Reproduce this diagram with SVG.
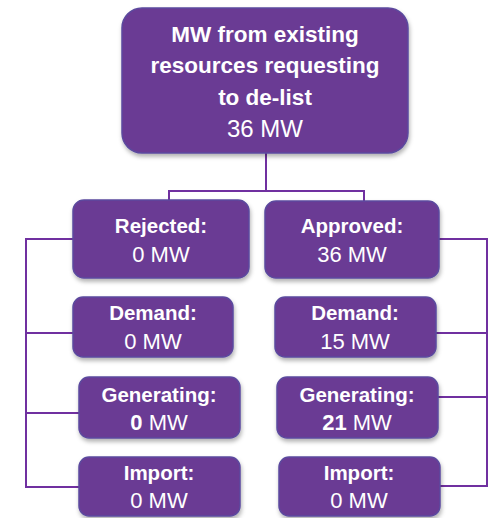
<svg xmlns="http://www.w3.org/2000/svg" width="489" height="518" viewBox="0 0 489 518">
<defs>
<filter id="sh" x="-10%" y="-10%" width="120%" height="130%">
<feDropShadow dx="1" dy="3" stdDeviation="2" flood-color="#000" flood-opacity="0.3"/>
</filter>
<style>
.box{fill:#6B3A94;stroke:#5B4A9E;stroke-width:1.5;filter:url(#sh)}
.t{fill:#fff;font-family:"Liberation Sans",Arial,sans-serif;text-anchor:middle;font-size:22px}
.b{font-weight:bold;font-size:20.5px}
.tb{font-weight:bold;font-size:22.5px}
.big{font-size:24px}
.c{fill:none;stroke:#7030A0;stroke-width:2}
</style>
</defs>
<g id="connectors">
<path class="c" d="M266 153 V191 M169 200 V191 H364 V201"/>
<path class="c" d="M73 239 H26 V487 H79 M73 333 H26 M79 413 H26"/>
<path class="c" d="M439 239 H487 V486 H440 M436 333 H487 M438 397 H487"/>
</g>
<g id="top">
<rect class="box" x="122" y="8" width="286" height="145" rx="20"/>
<text class="t tb" x="265" y="42">MW from existing</text>
<text class="t tb" x="265" y="73">resources requesting</text>
<text class="t tb" x="265" y="105">to de-list</text>
<text class="t big" x="265" y="137">36 MW</text>
</g>
<g id="rejected">
<rect class="box" x="73" y="200" width="176" height="78" rx="11"/>
<text class="t b" x="161" y="233">Rejected:</text>
<text class="t" x="161" y="262">0 MW</text>
</g>
<g id="approved">
<rect class="box" x="265" y="201" width="174" height="77" rx="11"/>
<text class="t b" x="352" y="233">Approved:</text>
<text class="t" x="352" y="262">36 MW</text>
</g>
<g id="demand-left">
<rect class="box" x="73" y="297" width="160" height="60" rx="10"/>
<text class="t b" x="153" y="320">Demand:</text>
<text class="t" x="153" y="349">0 MW</text>
</g>
<g id="demand-right">
<rect class="box" x="275" y="297" width="161" height="60" rx="10"/>
<text class="t b" x="355" y="320">Demand:</text>
<text class="t" x="355" y="349">15 MW</text>
</g>
<g id="generating-left">
<rect class="box" x="79" y="377" width="161" height="61" rx="10"/>
<text class="t b" x="159" y="402">Generating:</text>
<text class="t" x="159" y="430"><tspan font-weight="bold">0</tspan> MW</text>
</g>
<g id="generating-right">
<rect class="box" x="277" y="377" width="161" height="61" rx="10"/>
<text class="t b" x="357" y="402">Generating:</text>
<text class="t" x="357" y="430"><tspan font-weight="bold">21</tspan> MW</text>
</g>
<g id="import-left">
<rect class="box" x="79" y="457" width="161" height="59" rx="10"/>
<text class="t b" x="159" y="480">Import:</text>
<text class="t" x="159" y="508">0 MW</text>
</g>
<g id="import-right">
<rect class="box" x="279" y="457" width="161" height="59" rx="10"/>
<text class="t b" x="359" y="480">Import:</text>
<text class="t" x="359" y="508">0 MW</text>
</g>
</svg>
